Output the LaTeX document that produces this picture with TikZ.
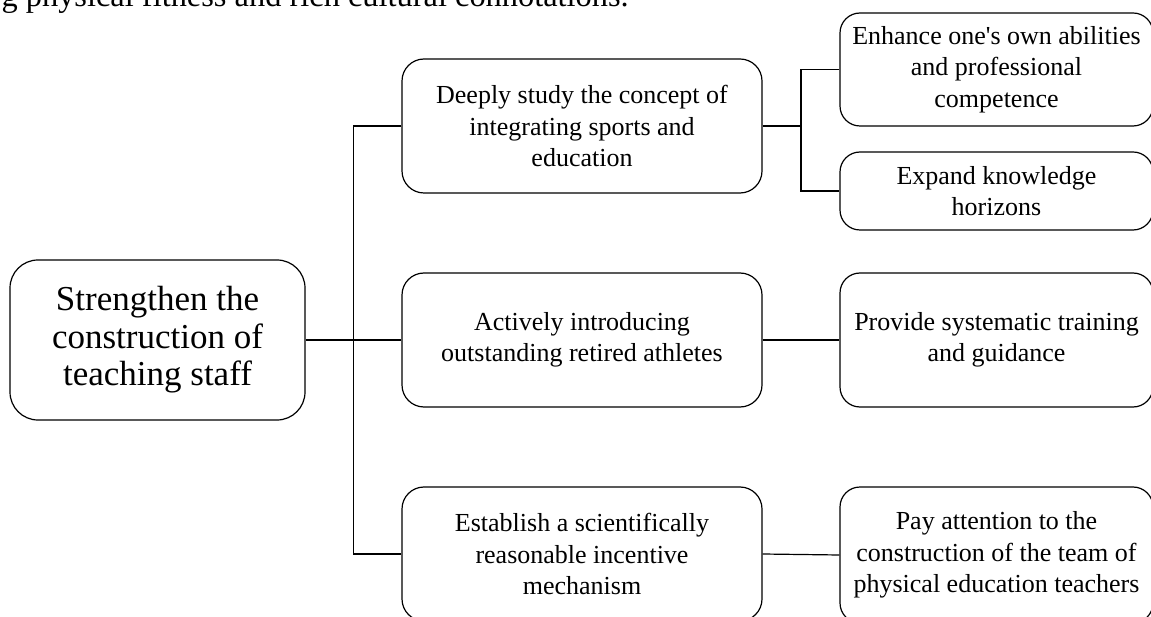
\documentclass[tikz,border=0pt]{standalone}
\usepackage{fontspec}
\setmainfont{Liberation Serif}
\usetikzlibrary{calc}
\tikzset{
  box/.style={draw,rounded corners=22pt,align=center,inner sep=0pt,font=\fontsize{26}{31.5}\selectfont},
  midbox/.style={box,minimum width=360pt,minimum height=134pt},
  sidebox/.style={box,rounded corners=20pt,minimum width=313pt}
}
\begin{document}
\begin{tikzpicture}[x=1pt,y=-1pt,line width=1.2pt]
  \useasboundingbox (0,0) rectangle (1151,617);
  \clip (0,0) rectangle (1151,617);
  % line of running text cut off at the top
  \node[anchor=base west,inner sep=0pt,font=\fontsize{32.4}{36}\selectfont] (intro) at (1,7) {g physical fitness and rich cultural connotations.};
  % main box
  \node[box,rounded corners=28pt,minimum width=295pt,minimum height=160pt,font=\fontsize{35}{37.5}\selectfont] (root) at (157.5,340) {Strengthen the\\construction of\\teaching staff};
  % middle column
  \node[midbox] (study) at (582,126) {Deeply study the concept of\\integrating sports and\\education};
  \node[midbox] (athletes) at (582,340) {Actively introducing\\outstanding retired athletes};
  \node[midbox] (incentive) at (582,554) {Establish a scientifically\\reasonable incentive\\mechanism};
  % right column
  \node[sidebox,minimum height=113pt] (abilities) at (996.5,69.5) {Enhance one\textquotesingle s own abilities\\and professional\\competence};
  \node[sidebox,minimum height=78pt] (horizons) at (996.5,191) {Expand knowledge\\horizons};
  \node[sidebox,minimum height=134pt] (training) at (996.5,340) {Provide systematic training\\and guidance};
  \node[sidebox,minimum height=136pt] (team) at (996.5,555) {Pay attention to the\\construction of the team of\\physical education teachers};
  % connectors
  \coordinate (trunk) at ($(root.east)!0.5!(athletes.west)$);
  \coordinate (fork) at ($(study.east)!0.5!(abilities.west |- study.east)$);
  \draw (root.east) -- (athletes.west);
  \draw (study.west) -| (trunk) |- (incentive.west);
  \draw (study.east) -- (fork);
  \draw (abilities.west) -| (fork) |- (horizons.west);
  \foreach \a/\b in {athletes/training,incentive/team} \draw (\a.east) -- (\b.west);
\end{tikzpicture}
\end{document}
